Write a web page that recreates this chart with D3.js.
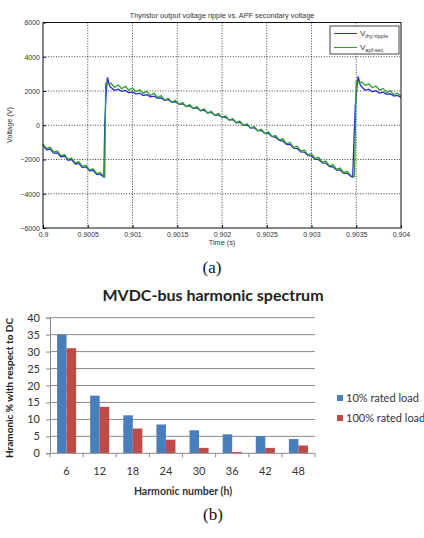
<!DOCTYPE html>
<html>

<head>
    <meta charset="utf-8">
    <script src="https://d3js.org/d3.v7.min.js"></script>
    <title>ripple and harmonic spectrum</title>
    <style>
        body {
            margin: 0;
            background: #fff;
        }
    </style>
</head>

<body>
    <div id="chart-container"></div>

    <script>
        // ---- (a) time trace, time in microseconds after 0.9 s ----
        const T0 = 0.9;
        const thyRipple = [
            [0, -1190], [40, -1430], [80, -1390], [120, -1630], [160, -1610], [200, -1850], [240, -1800],
            [280, -2040], [320, -2000], [360, -2260], [400, -2230], [440, -2470], [480, -2430], [520, -2660],
            [560, -2640], [600, -2870], [640, -2870], [680, -3020], [690, 0], [705, 1800], [720, 2800],
            [740, 2350], [760, 2200], [800, 2040], [840, 2110], [880, 1980], [920, 2030], [960, 1900],
            [1000, 1950], [1040, 1820], [1080, 1870], [1120, 1740], [1160, 1790], [1200, 1660], [1240, 1700],
            [1280, 1570], [1320, 1600], [1360, 1450], [1400, 1490], [1440, 1340], [1480, 1370], [1520, 1230],
            [1560, 1250], [1600, 1100], [1640, 1130], [1680, 990], [1720, 1010], [1760, 860], [1800, 880],
            [1840, 730], [1880, 750], [1920, 590], [1960, 610], [2000, 460], [2040, 470], [2080, 310],
            [2120, 320], [2160, 160], [2200, 170], [2240, 0], [2280, 10], [2320, -150], [2360, -150],
            [2400, -310], [2440, -310], [2480, -470], [2520, -480], [2560, -670], [2600, -700], [2640, -890],
            [2680, -920], [2720, -1110], [2760, -1130], [2800, -1330], [2840, -1350], [2880, -1550],
            [2920, -1570], [2960, -1770], [3000, -1790], [3040, -1980], [3080, -2000], [3120, -2200],
            [3160, -2210], [3200, -2410], [3240, -2430], [3280, -2620], [3320, -2620], [3360, -2810],
            [3400, -2810], [3440, -2990], [3460, -3040], [3475, -800], [3490, 1200], [3520, 2850],
            [3545, 2350], [3560, 2250], [3600, 2040], [3640, 2110], [3680, 1960], [3720, 2020], [3760, 1880],
            [3800, 1930], [3840, 1800], [3880, 1840], [3920, 1700], [3960, 1740], [4000, 1620]
        ];
        const apfSec = [
            [0, -1100], [40, -1360], [80, -1290], [120, -1570], [160, -1500], [200, -1780], [240, -1710],
            [280, -1990], [320, -1920], [360, -2200], [400, -2120], [440, -2400], [480, -2330], [520, -2610],
            [560, -2540], [600, -2820], [640, -2760], [680, -2990], [690, -3000], [700, 2450], [720, 2420],
            [760, 2450], [800, 2210], [840, 2350], [880, 2130], [920, 2270], [960, 2050], [1000, 2190],
            [1040, 1960], [1080, 2070], [1120, 1860], [1160, 1980], [1200, 1740], [1240, 1870], [1280, 1610],
            [1320, 1730], [1360, 1470], [1400, 1580], [1440, 1340], [1480, 1460], [1520, 1210], [1560, 1330],
            [1600, 1090], [1640, 1210], [1680, 970], [1720, 1090], [1760, 840], [1800, 960], [1840, 710],
            [1880, 820], [1920, 580], [1960, 690], [2000, 440], [2040, 550], [2080, 290], [2120, 390],
            [2160, 140], [2200, 240], [2240, -10], [2280, 80], [2320, -170], [2360, -70], [2400, -330],
            [2440, -230], [2480, -490], [2520, -390], [2560, -660], [2600, -600], [2640, -860], [2680, -790],
            [2720, -1080], [2760, -1010], [2800, -1300], [2840, -1225], [2880, -1515], [2920, -1440],
            [2960, -1730], [3000, -1660], [3040, -1950], [3080, -1875], [3120, -2160], [3160, -2090],
            [3200, -2380], [3240, -2300], [3280, -2580], [3320, -2500], [3360, -2770], [3400, -2690],
            [3440, -2950], [3470, -2990], [3480, -3000], [3500, 2550], [3520, 2480], [3560, 2530],
            [3600, 2320], [3640, 2420], [3680, 2190], [3720, 2290], [3760, 2060], [3800, 2150], [3840, 1920],
            [3880, 2010], [3920, 1790], [3960, 1870], [4000, 1700]
        ];
        const timeTicks = [0.9, 0.9005, 0.901, 0.9015, 0.902, 0.9025, 0.903, 0.9035, 0.904];
        const voltTicks = [-6000, -4000, -2000, 0, 2000, 4000, 6000];

        // ---- (b) harmonic spectrum ----
        const harmonics = ["6", "12", "18", "24", "30", "36", "42", "48"];
        const load10 = [35, 17, 11.2, 8.5, 6.8, 5.6, 5.1, 4.2];
        const load100 = [31, 13.7, 7.3, 4, 1.6, 0.4, 1.6, 2.3];
        const pctTicks = [0, 5, 10, 15, 20, 25, 30, 35, 40];
        const seriesNames = ["10% rated load", "100% rated load"];
        const seriesColors = ["#4a7ebb", "#be4b48"];

        const svg = d3.select("#chart-container").append("svg")
            .attr("width", 424)
            .attr("height", 538);

        // ================= (a) =================
        const x = d3.scaleLinear().domain([0.9, 0.904]).range([43, 401]);
        const y = d3.scaleLinear().domain([-6000, 6000]).range([228, 22.5]);
        const ga = svg.append("g").style("font-family", "'Liberation Sans', Arial, sans-serif");

        // dotted grid
        ga.selectAll("line.vgrid")
            .data(timeTicks.slice(1, -1))
            .join("line")
            .attr("x1", d => x(d)).attr("x2", d => x(d))
            .attr("y1", y(6000)).attr("y2", y(-6000))
            .attr("stroke", "#111").attr("stroke-width", 0.8)
            .attr("stroke-dasharray", "1,1.6");
        ga.selectAll("line.hgrid")
            .data(voltTicks.slice(1, -1))
            .join("line")
            .attr("x1", x(0.9)).attr("x2", x(0.904))
            .attr("y1", d => y(d)).attr("y2", d => y(d))
            .attr("stroke", "#111").attr("stroke-width", 0.8)
            .attr("stroke-dasharray", "1,1.6");

        const line = d3.line()
            .x(d => x(T0 + d[0] * 1e-6))
            .y(d => y(d[1]));

        ga.append("path").datum(thyRipple)
            .attr("d", line).attr("fill", "none")
            .attr("stroke", "#2a2ad0").attr("stroke-width", 1.3);
        ga.append("path").datum(apfSec)
            .attr("d", line).attr("fill", "none")
            .attr("stroke", "#2f9e2f").attr("stroke-width", 1.3);

        // box
        ga.append("rect")
            .attr("x", x(0.9)).attr("y", y(6000))
            .attr("width", x(0.904) - x(0.9)).attr("height", y(-6000) - y(6000))
            .attr("fill", "none").attr("stroke", "#111").attr("stroke-width", 1);

        // axes
        const xAxis = d3.axisBottom(x).tickValues(timeTicks).tickSize(-3).tickPadding(4)
            .tickFormat(d => String(+d.toFixed(4)));
        ga.append("g").attr("transform", `translate(0,${y(-6000)})`).call(xAxis)
            .call(g => g.select(".domain").remove())
            .call(g => g.selectAll("line").attr("stroke", "#111"))
            .call(g => g.selectAll("text").attr("font-size", 7).attr("fill", "#333")
                .attr("font-family", "'Liberation Sans', Arial, sans-serif"));
        const yAxis = d3.axisLeft(y).tickValues(voltTicks).tickSize(-3).tickPadding(3)
            .tickFormat(d3.format("d"));
        ga.append("g").attr("transform", `translate(${x(0.9)},0)`).call(yAxis)
            .call(g => g.select(".domain").remove())
            .call(g => g.selectAll("line").attr("stroke", "#111"))
            .call(g => g.selectAll("text").attr("font-size", 7).attr("fill", "#333")
                .attr("font-family", "'Liberation Sans', Arial, sans-serif"));

        ga.append("text")
            .attr("x", 222).attr("y", 17.5)
            .attr("text-anchor", "middle").attr("font-size", 7.3).attr("fill", "#333")
            .text("Thyristor output voltage ripple vs. APF secondary voltage");
        ga.append("text")
            .attr("x", 222).attr("y", 245)
            .attr("text-anchor", "middle").attr("font-size", 7.3).attr("fill", "#333")
            .text("Time (s)");
        ga.append("text")
            .attr("transform", "translate(12,125) rotate(-90)")
            .attr("text-anchor", "middle").attr("font-size", 7.3).attr("fill", "#333")
            .text("Voltage (V)");

        // legend (a)
        const lg = ga.append("g").attr("transform", "translate(330,26)");
        lg.append("rect").attr("width", 69).attr("height", 28)
            .attr("fill", "#fff").attr("stroke", "#444").attr("stroke-width", 1);
        const legA = [
            { main: "V", sub: "thy-ripple", color: "#2a2ad0" },
            { main: "V", sub: "apf-sec", color: "#2f9e2f" }
        ];
        legA.forEach((d, i) => {
            const yy = 7.5 + i * 14;
            lg.append("line").attr("x1", 4).attr("x2", 27).attr("y1", yy).attr("y2", yy)
                .attr("stroke", d.color).attr("stroke-width", 1);
            const t = lg.append("text").attr("x", 30).attr("y", yy + 2.5)
                .attr("font-size", 8).attr("fill", "#333");
            t.append("tspan").text(d.main);
            t.append("tspan").attr("font-size", 5.5).attr("dy", 2).text(d.sub);
        });

        svg.append("text")
            .attr("x", 212).attr("y", 273)
            .attr("text-anchor", "middle")
            .attr("font-family", "'Liberation Serif', 'DejaVu Serif', serif")
            .attr("font-size", 17).attr("fill", "#111")
            .text("(a)");

        // ================= (b) =================
        const gb = svg.append("g").style("font-family", "Lato, 'Open Sans', sans-serif");
        const xb = d3.scaleBand().domain(harmonics).range([50, 315]);
        const xs = d3.scaleBand().domain([0, 1]).range([0, xb.bandwidth()]).paddingOuter(0.74);
        const yb = d3.scaleLinear().domain([0, 40]).range([453.3, 317.7]);

        gb.selectAll("line.grid")
            .data(pctTicks.slice(1))
            .join("line")
            .attr("x1", 50).attr("x2", 315)
            .attr("y1", d => yb(d)).attr("y2", d => yb(d))
            .attr("stroke", "#8a8a8a").attr("stroke-width", 1);

        const rows = harmonics.map((h, i) => ({ h, vals: [load10[i], load100[i]] }));
        gb.selectAll("g.grp")
            .data(rows)
            .join("g")
            .attr("transform", d => `translate(${xb(d.h)},0)`)
            .selectAll("rect")
            .data(d => d.vals.map((v, k) => ({ v, k })))
            .join("rect")
            .attr("x", d => xs(d.k))
            .attr("width", xs.bandwidth())
            .attr("y", d => yb(d.v))
            .attr("height", d => yb(0) - yb(d.v))
            .attr("fill", d => seriesColors[d.k]);

        // x axis with tick marks at category boundaries
        gb.append("line").attr("x1", 50).attr("x2", 315)
            .attr("y1", yb(0)).attr("y2", yb(0)).attr("stroke", "#8a8a8a");
        gb.selectAll("line.xtick")
            .data(harmonics.concat(["end"]))
            .join("line")
            .attr("x1", (d, i) => 50 + i * xb.step()).attr("x2", (d, i) => 50 + i * xb.step())
            .attr("y1", yb(0)).attr("y2", yb(0) + 4)
            .attr("stroke", "#8a8a8a");
        gb.selectAll("text.xlab")
            .data(harmonics)
            .join("text")
            .attr("x", d => xb(d) + xb.bandwidth() / 2)
            .attr("y", 475)
            .attr("text-anchor", "middle").attr("font-size", 11).attr("fill", "#333")
            .text(d => d);

        const yAxisB = d3.axisLeft(yb).tickValues(pctTicks).tickSize(4).tickPadding(6);
        gb.append("g").attr("transform", "translate(50,0)").call(yAxisB)
            .call(g => g.select(".domain").attr("stroke", "#8a8a8a"))
            .call(g => g.selectAll("line").attr("stroke", "#8a8a8a"))
            .call(g => g.selectAll("text").attr("font-size", 11).attr("fill", "#333")
                .attr("font-family", "Lato, 'Open Sans', sans-serif"));

        gb.append("text")
            .attr("x", 213).attr("y", 301)
            .attr("text-anchor", "middle").attr("font-size", 16).attr("font-weight", "bold")
            .attr("fill", "#222")
            .text("MVDC-bus harmonic spectrum");
        gb.append("text")
            .attr("x", 183).attr("y", 495)
            .attr("text-anchor", "middle").attr("font-size", 10.5).attr("font-weight", "bold")
            .attr("fill", "#333")
            .text("Harmonic number (h)");
        gb.append("text")
            .attr("transform", "translate(13,388) rotate(-90)")
            .attr("text-anchor", "middle").attr("font-size", 10).attr("font-weight", "bold")
            .attr("fill", "#222")
            .text("Hramonic % with respect to DC");

        // legend (b)
        const lgb = gb.selectAll("g.leg")
            .data(seriesNames)
            .join("g")
            .attr("transform", (d, i) => `translate(337,${398 + i * 20})`);
        lgb.append("rect").attr("x", 0).attr("y", -3).attr("width", 6).attr("height", 6)
            .attr("fill", (d, i) => seriesColors[i]);
        lgb.append("text").attr("x", 9).attr("y", 4)
            .attr("font-size", 11).attr("fill", "#333")
            .text(d => d);

        svg.append("text")
            .attr("x", 213).attr("y", 520)
            .attr("text-anchor", "middle")
            .attr("font-family", "'Liberation Serif', 'DejaVu Serif', serif")
            .attr("font-size", 17).attr("fill", "#111")
            .text("(b)");
    </script>

</body>

</html>
